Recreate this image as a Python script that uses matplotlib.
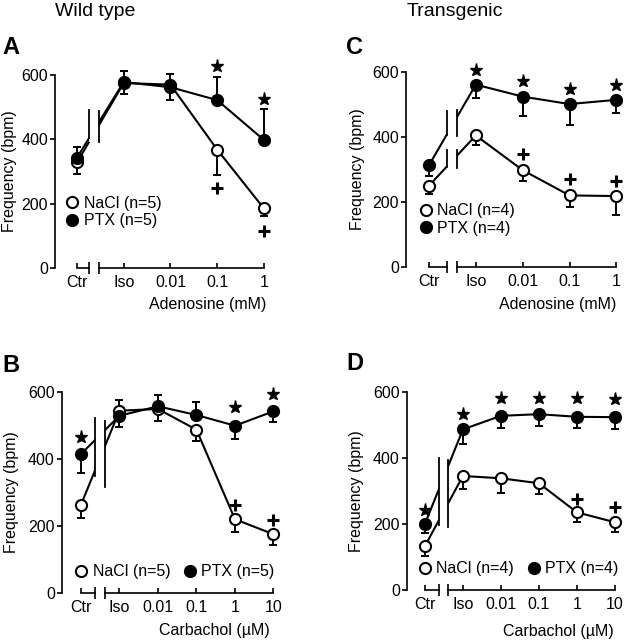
"""
Heart rate responses (wild type vs transgenic) to adenosine and carbachol
after isoproterenol, NaCl vs PTX treated.

Output: out.png
"""

import matplotlib.pyplot as plt
import numpy as np
from matplotlib.lines import Line2D

plt.rcParams["font.family"] = ["Liberation Sans", "DejaVu Sans"]

W, H = 625, 640

ado_labels = ["Ctr", "Iso", "0.01", "0.1", "1"]
carb_labels = ["Ctr", "Iso", "0.01", "0.1", "1", "10"]

# A - wild type, adenosine
wt_ado_nacl = [328, 575, 570, 368, 185]
wt_ado_nacl_lo = [37, 35, 0, 78, 23]
wt_ado_nacl_hi = [0, 0, 33, 0, 0]
wt_ado_ptx = [343, 578, 562, 522, 398]
wt_ado_ptx_lo = [0, 0, 40, 0, 0]
wt_ado_ptx_hi = [32, 35, 0, 73, 95]
wt_ado_star_x = [3, 4]
wt_ado_star_y = [629, 525]
wt_ado_plus_x = [3, 4]
wt_ado_plus_y = [248, 116]

# C - transgenic, adenosine
tg_ado_nacl = [250, 405, 298, 220, 218]
tg_ado_nacl_lo = [25, 30, 35, 36, 58]
tg_ado_ptx = [313, 562, 525, 502, 515]
tg_ado_ptx_lo = [32, 40, 60, 65, 40]
tg_ado_star_x = [1, 2, 3, 4]
tg_ado_star_y = [608, 574, 549, 562]
tg_ado_plus_x = [2, 3, 4]
tg_ado_plus_y = [349, 270, 263]

# B - wild type, carbachol
wt_carb_nacl = [263, 545, 550, 488, 220, 175]
wt_carb_nacl_lo = [40, 0, 35, 35, 37, 32]
wt_carb_nacl_hi = [0, 33, 0, 0, 0, 0]
wt_carb_ptx = [415, 530, 558, 532, 500, 543]
wt_carb_ptx_lo = [57, 34, 0, 0, 40, 33]
wt_carb_ptx_hi = [0, 0, 34, 38, 0, 0]
wt_carb_star_x = [0, 4, 5]
wt_carb_star_y = [465, 555, 595]
wt_carb_plus_x = [4, 5]
wt_carb_plus_y = [263, 218]

# D - transgenic, carbachol
tg_carb_nacl = [133, 345, 338, 323, 235, 205]
tg_carb_nacl_lo = [30, 40, 45, 32, 30, 28]
tg_carb_ptx = [200, 486, 527, 532, 524, 523]
tg_carb_ptx_lo = [28, 45, 37, 35, 35, 35]
tg_carb_star_x = [0, 1, 2, 3, 4, 5]
tg_carb_star_y = [242, 533, 582, 582, 580, 578]
tg_carb_plus_x = [4, 5]
tg_carb_plus_y = [275, 250]


def px_rect(left, right, top, bottom):
    return [left / W, 1 - bottom / H, (right - left) / W, (bottom - top) / H]


def draw_panel(fig, rect, xlim, labels, nacl, nacl_err, ptx, ptx_err,
               stars, plus, breaks, gap, n, xlabel, legend_two_rows,
               legend_pos, xlabel_pos, ylabel_x):
    ax = fig.add_axes(rect)
    x = np.arange(len(labels))

    ax.set_xlim(*xlim)
    ax.set_ylim(0, 600)

    for s in ["top", "right", "bottom"]:
        ax.spines[s].set_visible(False)
    ax.spines["left"].set_linewidth(1.2)
    ax.spines["left"].set_bounds(0, 600)

    ax.set_yticks([0, 200, 400, 600])
    ax.tick_params(axis="y", direction="out", length=3.5, width=1.2,
                   labelsize=11.5, pad=1.5)
    ax.set_xticks(x)
    ax.set_xticklabels(labels)
    ax.tick_params(axis="x", direction="in", length=3.5, width=1.2,
                   labelsize=11.5, pad=5)

    # broken x axis
    xl, xr = gap
    ax.plot([0, xl], [0, 0], color="black", lw=1.2, clip_on=False)
    ax.plot([xr, x[-1]], [0, 0], color="black", lw=1.2, clip_on=False)
    ax.plot([xl, xr], [0, 0], ls="none", marker="|", ms=9, mew=1.2,
            color="black", clip_on=False)

    # data lines
    ax.plot(x, nacl, color="black", lw=1.5, zorder=2, clip_on=False)
    ax.plot(x, ptx, color="black", lw=1.5, zorder=2, clip_on=False)

    # break marks on the data lines
    for (lo_l, hi_l), (lo_r, hi_r) in breaks:
        ax.fill_between([xl, xr], min(lo_l, lo_r), max(hi_l, hi_r),
                        color="white", lw=0, zorder=2.5)
        ax.plot([xl, xl], [lo_l, hi_l], color="black", lw=1.3, zorder=3)
        ax.plot([xr, xr], [lo_r, hi_r], color="black", lw=1.3, zorder=3)

    ax.errorbar(x, nacl, yerr=nacl_err, fmt="none", ecolor="black",
                elinewidth=1.4, capsize=3, capthick=1.4, zorder=3,
                clip_on=False)
    ax.errorbar(x, ptx, yerr=ptx_err, fmt="none", ecolor="black",
                elinewidth=1.4, capsize=3, capthick=1.4, zorder=3,
                clip_on=False)

    ax.plot(x, nacl, ls="none", marker="o", ms=8, mfc="white", mec="black",
            mew=1.5, zorder=5, clip_on=False)
    ax.plot(x, ptx, ls="none", marker="o", ms=8, mfc="black", mec="black",
            mew=1.5, zorder=5, clip_on=False)

    ax.plot(stars[0], stars[1], ls="none", marker="*", ms=9.5,
            color="black", clip_on=False)
    ax.plot(plus[0], plus[1], ls="none", marker="+", ms=8, mew=2.2,
            color="black", clip_on=False)

    handles = [
        Line2D([], [], ls="none", marker="o", ms=8, mfc="white",
               mec="black", mew=1.5),
        Line2D([], [], ls="none", marker="o", ms=8, mfc="black",
               mec="black", mew=1.5),
    ]
    names = [f"NaCl (n={n})", f"PTX (n={n})"]
    ax.legend(handles, names, loc="center left", bbox_to_anchor=legend_pos,
              frameon=False, ncol=1 if legend_two_rows else 2,
              handlelength=0.7, handletextpad=0.35, labelspacing=0.15,
              columnspacing=0.9, borderpad=0, borderaxespad=0, fontsize=11.5)

    ax.text(xlabel_pos[0], xlabel_pos[1], xlabel, transform=ax.transAxes,
            ha="center", va="center", fontsize=11.5)
    ax.set_ylabel("Frequency (bpm)", fontsize=11.5)
    ax.yaxis.set_label_coords(ylabel_x, 0.5)
    return ax


fig = plt.figure(figsize=(W / 100, H / 100), dpi=100)

draw_panel(fig, px_rect(55, 270, 75, 268), (-0.47, 4.13), ado_labels,
           wt_ado_nacl, [wt_ado_nacl_lo, wt_ado_nacl_hi],
           wt_ado_ptx, [wt_ado_ptx_lo, wt_ado_ptx_hi],
           (wt_ado_star_x, wt_ado_star_y), (wt_ado_plus_x, wt_ado_plus_y),
           [((404, 491), (393, 489))], (0.26, 0.48), 5, "Adenosine (mM)",
           True, (0.055, 0.29), (0.71, -0.19), -0.175)

draw_panel(fig, px_rect(406, 622, 72.3, 266.7), (-0.49, 4.12), ado_labels,
           tg_ado_nacl, [tg_ado_nacl_lo, [0] * 5],
           tg_ado_ptx, [tg_ado_ptx_lo, [0] * 5],
           (tg_ado_star_x, tg_ado_star_y), (tg_ado_plus_x, tg_ado_plus_y),
           [((407, 480), (402, 485)), ((309, 361), (306, 361))],
           (0.38, 0.59), 4, "Adenosine (mM)",
           True, (0.065, 0.243), (0.70, -0.197), -0.19)

draw_panel(fig, px_rect(61.7, 280, 392.3, 592.7), (-0.50, 5.17), carb_labels,
           wt_carb_nacl, [wt_carb_nacl_lo, wt_carb_nacl_hi],
           wt_carb_ptx, [wt_carb_ptx_lo, wt_carb_ptx_hi],
           (wt_carb_star_x, wt_carb_star_y), (wt_carb_plus_x, wt_carb_plus_y),
           [((348, 523), (317, 515))], (0.36, 0.62), 5, "Carbachol (µM)",
           False, (0.065, 0.105), (0.70, -0.19), -0.196)

draw_panel(fig, px_rect(406.7, 621, 391.7, 590), (-0.48, 5.16), carb_labels,
           tg_carb_nacl, [tg_carb_nacl_lo, [0] * 6],
           tg_carb_ptx, [tg_carb_ptx_lo, [0] * 6],
           (tg_carb_star_x, tg_carb_star_y), (tg_carb_plus_x, tg_carb_plus_y),
           [((197, 399), (192, 394))], (0.37, 0.60), 4, "Carbachol (µM)",
           False, (0.058, 0.106), (0.706, -0.21), -0.2)

fig.text(55 / W, 1 - 12 / H, "Wild type", ha="left", va="center", fontsize=14)
fig.text(407 / W, 1 - 12 / H, "Transgenic", ha="left", va="center",
         fontsize=14)

for letter, lx, ly in [("A", 2, 47), ("C", 346, 47),
                       ("B", 2, 365), ("D", 346.7, 364)]:
    fig.text(lx / W, 1 - ly / H, letter, ha="left", va="center",
             fontsize=17, fontweight="bold")

fig.savefig("out.png", dpi=100)
plt.close(fig)
